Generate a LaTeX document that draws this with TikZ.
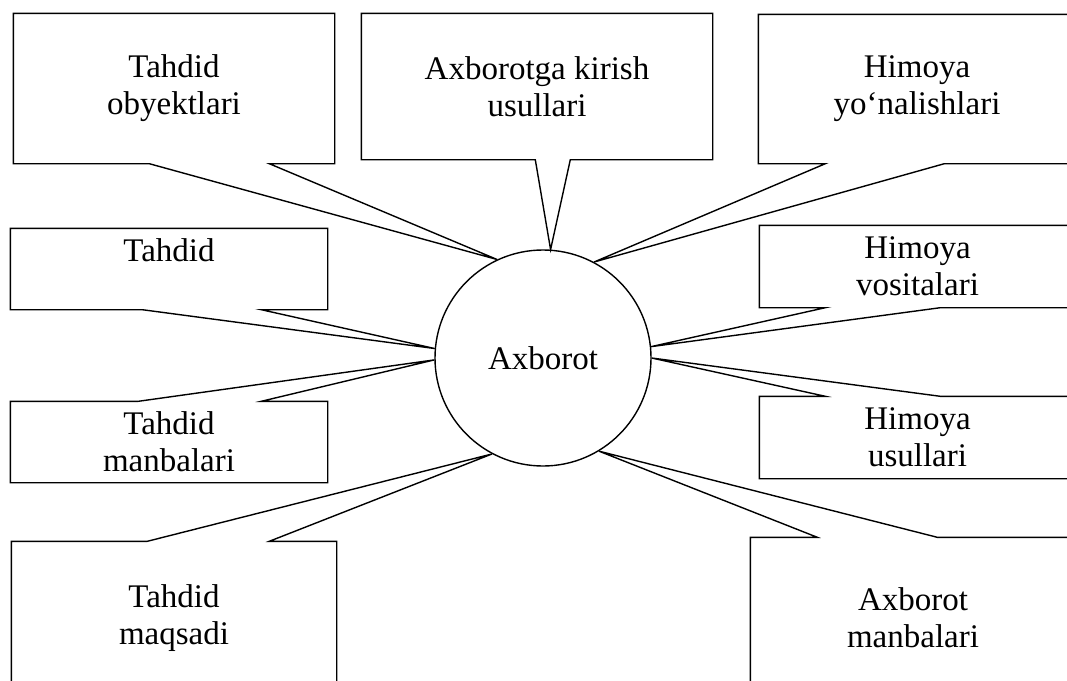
\documentclass[tikz,border=0pt]{standalone}
\usepackage{tikz}
\usepackage{fontspec}
\setmainfont{Liberation Serif}

\begin{document}
\begin{tikzpicture}[x=1pt,y=-1pt,line width=1.4pt,
 box/.style={rectangle,inner sep=0pt,align=center,
  font=\fontsize{33}{37}\selectfont},
 hub/.style={circle,draw,inner sep=0pt,minimum size=216pt,
  font=\fontsize{33}{37}\selectfont}]
\useasboundingbox (0,0) rectangle (1067,680);
\clip (0,0) rectangle (1067,680);

\node[hub] (info) at (543,358) {Axborot};

% left column
\node[box,minimum width=320pt,minimum height=149pt] (obj) at (174,88.5) {Tahdid\\obyektlari};
\node[box,minimum width=316pt,minimum height=80pt] (threat) at (169,269) {Tahdid\\~};
\node[box,minimum width=316pt,minimum height=80pt] (src) at (169,442) {Tahdid\\manbalari};
\node[box,minimum width=324pt,minimum height=152pt] (goal) at (174,618) {Tahdid\\maqsadi};
% middle
\node[box,minimum width=350pt,minimum height=145pt] (access) at (537,86.5) {Axborotga kirish\\usullari};
% right column
\node[box,minimum width=316pt,minimum height=148pt] (dir) at (917,89) {Himoya\\yo`nalishlari};
\node[box,minimum width=315pt,minimum height=81pt] (means) at (917.5,266.5) {Himoya\\vositalari};
\node[box,minimum width=315pt,minimum height=81pt] (meth) at (917.5,437.5) {Himoya\\usullari};
\node[box,minimum width=324pt,minimum height=160pt] (isrc) at (913,618) {Axborot\\manbalari};

% callouts, pointer on the lower side
\draw (obj.south west) -- (obj.north west) -- (obj.north east) -- (obj.south east)
  -- ([xshift=256pt]obj.south west) -- (info.115) -- ([xshift=136pt]obj.south west) -- cycle;
\draw (access.south west) -- (access.north west) -- (access.north east) -- (access.south east)
  -- ([xshift=209pt]access.south west) -- (info.86) -- ([xshift=174pt]access.south west) -- cycle;
\draw (dir.south west) -- (dir.north west) -- (dir.north east) -- (dir.south east)
  -- ([xshift=186pt]dir.south west) -- (info.62) -- ([xshift=67pt]dir.south west) -- cycle;
\draw (threat.south west) -- (threat.north west) -- (threat.north east) -- (threat.south east)
  -- ([xshift=251pt]threat.south west) -- (info.175) -- ([xshift=132pt]threat.south west) -- cycle;
\draw (means.south west) -- (means.north west) -- (means.north east) -- (means.south east)
  -- ([xshift=181pt]means.south west) -- (info.6) -- ([xshift=66pt]means.south west) -- cycle;
% callouts, pointer on the upper side
\draw (src.north west) -- (src.south west) -- (src.south east) -- (src.north east)
  -- ([xshift=251pt]src.north west) -- (info.181) -- ([xshift=128pt]src.north west) -- cycle;
\draw (meth.north west) -- (meth.south west) -- (meth.south east) -- (meth.north east)
  -- ([xshift=181pt]meth.north west) -- (info.0) -- ([xshift=66pt]meth.north west) -- cycle;
\draw (goal.north west) -- (goal.south west) -- (goal.south east) -- (goal.north east)
  -- ([xshift=258pt]goal.north west) -- (info.242) -- ([xshift=136pt]goal.north west) -- cycle;
\draw (isrc.north west) -- (isrc.south west) -- (isrc.south east) -- (isrc.north east)
  -- ([xshift=187pt]isrc.north west) -- (info.301) -- ([xshift=67pt]isrc.north west) -- cycle;
\end{tikzpicture}
\end{document}
